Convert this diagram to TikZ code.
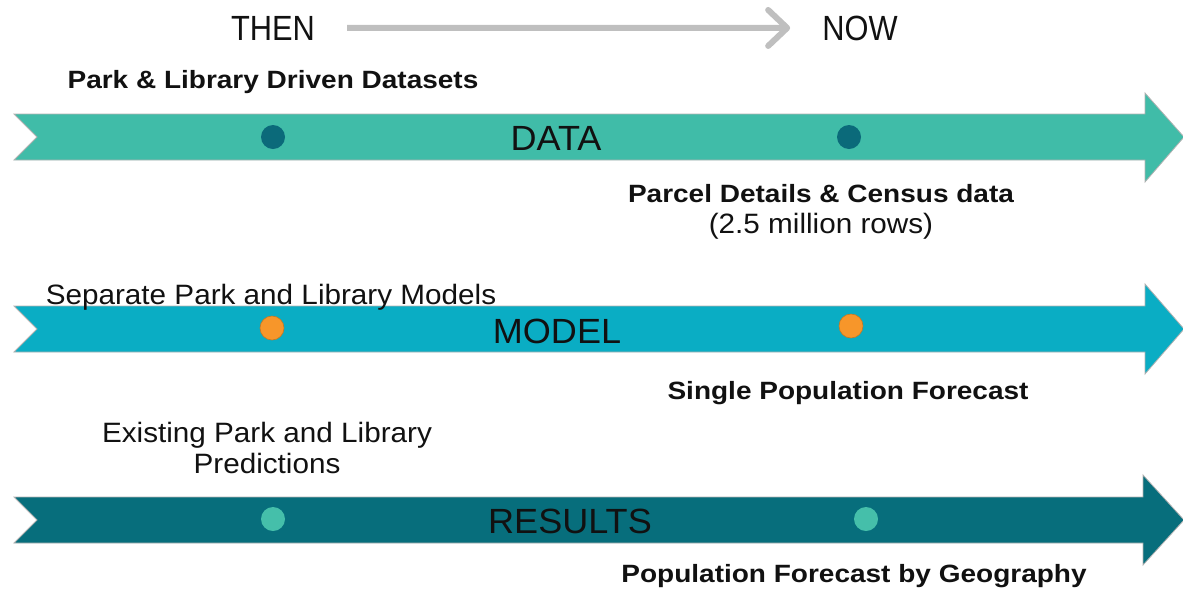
\documentclass[tikz,border=0pt]{standalone}
\usepackage{fontspec}
\setmainfont{Liberation Sans}
\newfontfamily\regfont[FakeStretch=1.06]{Liberation Sans}
\newfontfamily\boldlbl[FakeStretch=1.12]{Liberation Sans}
\newfontfamily\narrowfont[FakeStretch=0.88]{Liberation Sans}
\newfontfamily\stagefont[FakeStretch=1.03]{Liberation Sans}
\usetikzlibrary{arrows.meta}

\definecolor{databand}{HTML}{40BCA8}
\definecolor{modelband}{HTML}{0AADC4}
\definecolor{resultband}{HTML}{076E7C}
\definecolor{dotdark}{HTML}{0B6A7A}
\definecolor{dotorange}{HTML}{F7962A}
\definecolor{dotlight}{HTML}{45BFAA}
\definecolor{timeline}{HTML}{BFBFBF}
\definecolor{ink}{HTML}{111111}

\tikzset{
  band/.style={draw=black!30, line width=0.8pt},
  dot/.style={circle, minimum size=24pt, inner sep=0pt},
  stage/.style={anchor=base, inner sep=0pt, text=ink,
    font=\stagefont\fontsize{35}{40}\selectfont},
  era/.style={anchor=base, inner sep=0pt, text=ink,
    font=\narrowfont\fontsize{35}{40}\selectfont},
  note/.style={anchor=base, inner sep=0pt, text=ink,
    font=\regfont\fontsize{28}{33}\selectfont},
  keynote/.style={anchor=base, inner sep=0pt, text=ink,
    font=\boldlbl\bfseries\fontsize{25}{30}\selectfont},
  timeline arrow/.style={draw=timeline, line width=6pt,
    -{Straight Barb[length=19pt, width=36pt, line width=6pt, round]}},
}

\begin{document}
\begin{tikzpicture}[x=1pt, y=-1pt]
\useasboundingbox (0,0) rectangle (1183,590);

% then -> now
\node[era] (then) at (273,40) {THEN};
\node[era] (now) at (860,40) {NOW};
\draw[timeline arrow, shorten <=32pt, shorten >=32pt] (then.east) -- (now.west);

% DATA band
\path[band, fill=databand] (14,114) -- (1145,114) -- (1145,93) -- (1184,137)
  -- (1145,182) -- (1145,160) -- (14,160) -- (37,137) -- cycle;
\node[dot, fill=dotdark] (dataThen) at (273,137) {};
\node[dot, fill=dotdark] (dataNow) at (849,137) {};
\node[stage] (dataLbl) at (556,150) {DATA};
\node[keynote] (dataThenLbl) at (273,88) {Park \& Library Driven Datasets};
\node[keynote] (dataNowLbl) at (821,202) {Parcel Details \& Census data};
\node[note] (dataNowSub) at (821,233) {(2.5 million rows)};

% MODEL band
\path[band, fill=modelband] (14,306) -- (1145,306) -- (1145,284) -- (1184,329)
  -- (1145,374) -- (1145,352) -- (14,352) -- (37,329) -- cycle;
\node[dot, fill=dotorange, draw=dotorange!80!black, line width=0.6pt] (modelThen) at (272,328) {};
\node[dot, fill=dotorange, draw=dotorange!80!black, line width=0.6pt] (modelNow) at (851,326) {};
\node[stage] (modelLbl) at (557,343) {MODEL};
\node[note] (modelThenLbl) at (271,304) {Separate Park and Library Models};
\node[keynote] (modelNowLbl) at (848,399) {Single Population Forecast};

% RESULTS band
\path[band, fill=resultband] (14,497) -- (1143,497) -- (1143,475) -- (1184,520)
  -- (1143,565) -- (1143,543) -- (14,543) -- (37,520) -- cycle;
\node[dot, fill=dotlight] (resThen) at (273,519) {};
\node[dot, fill=dotlight] (resNow) at (866,519) {};
\node[stage] (resLbl) at (570,533) {RESULTS};
\node[note] (resThenLbl) at (267,442) {Existing Park and Library};
\node[note] (resThenLbl2) at (267,473) {Predictions};
\node[keynote] (resNowLbl) at (854,582) {Population Forecast by Geography};
\end{tikzpicture}
\end{document}
